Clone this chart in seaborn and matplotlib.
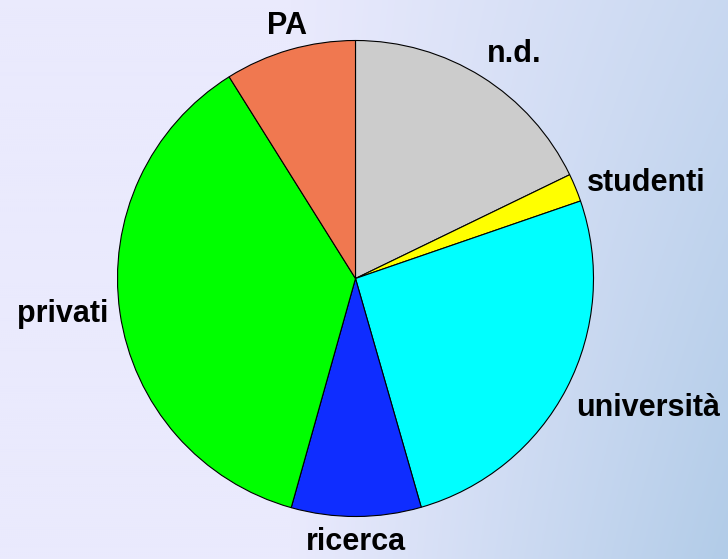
import numpy as np
import matplotlib.pyplot as plt
import seaborn as sns

# data (share in %), clockwise from 12 o'clock
labels = ["n.d.", "studenti", "università", "ricerca", "privati", "PA"]
shares = [17.8, 1.9, 25.8, 8.8, 36.7, 8.9]
colors = ["#CCCCCC", "#FFFF00", "#00FFFF", "#0F2DFF", "#00FF00", "#F07850"]

sns.set_theme(style="white")
plt.rcParams["font.family"] = ["Liberation Sans", "DejaVu Sans"]

fig = plt.figure(figsize=(7.28, 5.59), dpi=100)

# background gradient (lavender -> light steel blue towards bottom right)
bg = fig.add_axes([0, 0, 1, 1], zorder=0)
gx, gy = np.meshgrid(np.linspace(0, 1, 364), np.linspace(0, 1, 280))
t = np.clip((gx - 0.4) / 0.6, 0, 1) * (0.6 + 0.4 * gy)
c0 = np.array([234, 234, 253]) / 255
c1 = np.array([178, 204, 232]) / 255
img = c0 + t[..., None] * (c1 - c0)
bg.imshow(img, aspect="auto", extent=[0, 1, 0, 1], origin="upper")
bg.axis("off")

ax = fig.add_axes([0, 0, 1, 1], zorder=1)
ax.patch.set_alpha(0)
wedges, _ = ax.pie(shares, colors=colors, startangle=90, counterclock=False,
                   wedgeprops=dict(edgecolor="black", linewidth=0.8))

# labels just outside the rim, aligned like office charts do
for w, lab in zip(wedges, labels):
    mid = np.deg2rad((w.theta1 + w.theta2) / 2)
    x, y = np.cos(mid), np.sin(mid)
    ha = "center" if abs(x) < 0.35 else ("left" if x > 0 else "right")
    if y > 0.8:
        va, r = "bottom", 1.04
    elif y < -0.3:
        va, r = "top", 1.045
    else:
        va, r = "center", 1.05
    ax.text(r * x, r * y, lab, ha=ha, va=va, fontsize=22, fontweight="bold",
            color="black")

ax.set_aspect("equal")
ax.set_xlim(-355.5 / 238, (728 - 355.5) / 238)
ax.set_ylim(-280.5 / 238, 278.5 / 238)
ax.axis("off")

fig.savefig("out.png", dpi=100)
